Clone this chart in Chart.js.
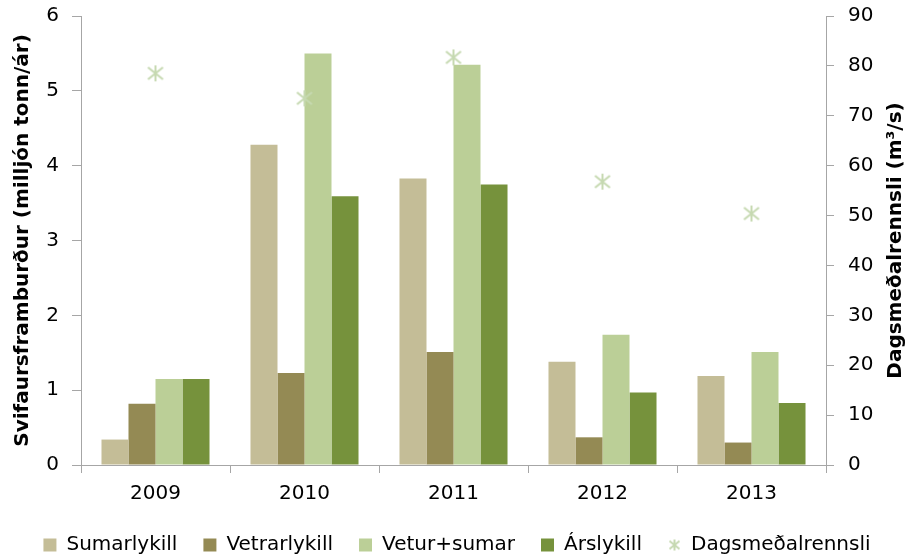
<!DOCTYPE html>
<html>
<head>
<meta charset="utf-8">
<script src="https://cdn.jsdelivr.net/npm/chart.js@4"></script>
<style>
  html, body { margin: 0; padding: 0; background: #fff; }
  #wrap { width: 914px; height: 556px; }
</style>
</head>
<body>
<div id="wrap"><canvas id="c" width="914" height="556"></canvas></div>
<script>
// Ár (categories)
const years = ['2009', '2010', '2011', '2012', '2013'];

// Svifaursframburður, milljón tonn/ár
const sumarlykill  = [0.34, 4.28, 3.83, 1.38, 1.19];
const vetrarlykill = [0.82, 1.23, 1.51, 0.37, 0.30];
const veturSumar   = [1.15, 5.50, 5.35, 1.74, 1.51];
const arslykill    = [1.15, 3.59, 3.75, 0.97, 0.83];

// Dagsmeðalrennsli, m³/s
const rennsli = [78.5, 73.5, 81.7, 56.8, 50.4];

const leftTicks  = [0, 1, 2, 3, 4, 5, 6];
const rightTicks = [0, 10, 20, 30, 40, 50, 60, 70, 80, 90];

const FONT = "'DejaVu Sans', Verdana, sans-serif";
const AXIS_GREY = '#a6a6a6';
const STAR_COLOR = '#c6d9b1';

// Asterisk marker: an X with a vertical stroke through it
function makeStar(size, lw) {
  const cv = document.createElement('canvas');
  cv.width = size; cv.height = size;
  const g = cv.getContext('2d');
  g.strokeStyle = STAR_COLOR;
  g.lineWidth = lw;
  const m = lw / 2 + 0.5, s = size;
  g.beginPath();
  g.moveTo(m, m + s * 0.08); g.lineTo(s - m, s - m - s * 0.08);
  g.moveTo(s - m, m + s * 0.08); g.lineTo(m, s - m - s * 0.08);
  g.moveTo(s / 2, m - 0.5); g.lineTo(s / 2, s - m + 0.5);
  g.stroke();
  return cv;
}
const starBig = makeStar(18, 2);
const starSmall = makeStar(13, 2);

// Right axis title drawn reading bottom-to-top
const rightTitle = {
  id: 'rightTitle',
  afterDraw(chart) {
    const { ctx, chartArea } = chart;
    ctx.save();
    ctx.translate(896, (chartArea.top + chartArea.bottom) / 2);
    ctx.rotate(-Math.PI / 2);
    ctx.fillStyle = '#000';
    ctx.font = 'bold 20px ' + FONT;
    ctx.textAlign = 'center';
    ctx.textBaseline = 'middle';
    ctx.fillText('Dagsmeðalrennsli (m³/s)', 0, 0);
    ctx.restore();
  }
};

// Fixed axis widths; tick label overflow should not push the plot area
function fixVertical(width) {
  return function (scale) {
    scale.width = width;
    scale.paddingTop = 0;
    scale.paddingBottom = 0;
  };
}

const barCommon = { yAxisID: 'y', categoryPercentage: 0.725, barPercentage: 1.0, pointStyle: 'rect', order: 2 };

new Chart(document.getElementById('c'), {
  type: 'bar',
  data: {
    labels: years,
    datasets: [
      Object.assign({ label: 'Sumarlykill',  data: sumarlykill,  backgroundColor: '#c4bd97' }, barCommon),
      Object.assign({ label: 'Vetrarlykill', data: vetrarlykill, backgroundColor: '#948a54' }, barCommon),
      Object.assign({ label: 'Vetur+sumar',  data: veturSumar,   backgroundColor: '#bbcf97' }, barCommon),
      Object.assign({ label: 'Árslykill',    data: arslykill,    backgroundColor: '#76923c' }, barCommon),
      {
        type: 'line', label: 'Dagsmeðalrennsli', data: rennsli, yAxisID: 'y1',
        showLine: false, pointStyle: starBig, pointRadius: 9, pointHoverRadius: 9,
        borderColor: STAR_COLOR, backgroundColor: STAR_COLOR, order: 1
      }
    ]
  },
  options: {
    responsive: false,
    animation: false,
    events: [],
    layout: { padding: { top: 16, left: 0, right: 0, bottom: -9 } },
    plugins: {
      tooltip: { enabled: false },
      legend: {
        position: 'bottom',
        labels: {
          usePointStyle: true,
          boxWidth: 13, boxHeight: 13,
          padding: 26,
          color: '#000',
          font: { family: FONT, size: 20 },
          sort: (a, b) => a.datasetIndex - b.datasetIndex,
          generateLabels(chart) {
            const items = Chart.defaults.plugins.legend.labels.generateLabels(chart);
            items.forEach(it => {
              if (it.datasetIndex === 4) it.pointStyle = starSmall;
              it.lineWidth = 0;
              it.strokeStyle = 'rgba(0,0,0,0)';
            });
            return items;
          }
        }
      }
    },
    scales: {
      x: {
        grid: { display: true, drawOnChartArea: false, drawTicks: true, tickLength: 8, color: AXIS_GREY, offset: true },
        border: { display: true, color: AXIS_GREY, width: 1 },
        ticks: { color: '#000', font: { family: FONT, size: 20 }, padding: 9, maxRotation: 0 },
        afterFit(scale) { scale.height = 44; }
      },
      y: {
        position: 'left',
        min: 0, max: 6,
        afterBuildTicks(scale) { scale.ticks = leftTicks.map(v => ({ value: v })); },
        grid: { display: true, drawOnChartArea: false, drawTicks: true, tickLength: 9, color: AXIS_GREY },
        border: { display: true, color: AXIS_GREY, width: 1 },
        ticks: { color: '#000', font: { family: FONT, size: 20 }, padding: 13 },
        title: {
          display: true, text: 'Svifaursframburður (milljón tonn/ár)', color: '#000',
          font: { family: FONT, size: 20, weight: 'bold' }, padding: { top: 11, bottom: 0 }
        },
        afterFit: fixVertical(81)
      },
      y1: {
        position: 'right',
        min: 0, max: 90,
        afterBuildTicks(scale) { scale.ticks = rightTicks.map(v => ({ value: v })); },
        grid: { display: true, drawOnChartArea: false, drawTicks: true, tickLength: 8, color: AXIS_GREY },
        border: { display: true, color: AXIS_GREY, width: 1 },
        ticks: { color: '#000', font: { family: FONT, size: 20 }, padding: 14 },
        afterFit: fixVertical(88)
      }
    }
  },
  plugins: [rightTitle]
});
</script>
</body>
</html>
